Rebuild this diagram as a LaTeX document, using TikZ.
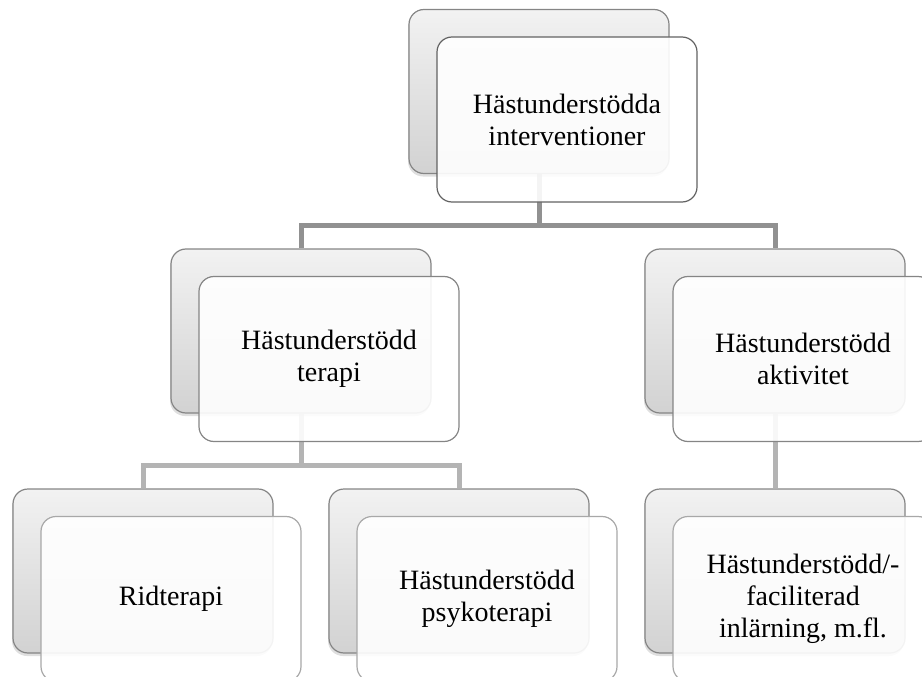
\documentclass[tikz,border=0pt]{standalone}
\usepackage{fontspec}
\setmainfont{Liberation Serif}
\usetikzlibrary{shadows,calc}
\pgfdeclarelayer{bg}
\pgfsetlayers{bg,main}
\definecolor{conntop}{HTML}{919191}
\definecolor{connlow}{HTML}{B4B4B4}
\definecolor{backline}{HTML}{858585}
\definecolor{backtop}{HTML}{F2F2F2}
\definecolor{backbot}{HTML}{D2D2D2}
\definecolor{frontA}{HTML}{626262}
\definecolor{frontB}{HTML}{858585}
\definecolor{frontC}{HTML}{A8A8A8}
\begin{document}
\begin{tikzpicture}[x=1pt,y=-1pt,
  backbox/.style={draw=backline, line width=1.2pt, rounded corners=15pt,
    minimum width=260pt, minimum height=164pt, inner sep=0pt,
    top color=backtop, bottom color=backbot,
    drop shadow={shadow xshift=-1pt, shadow yshift=-3pt, opacity=0.25}},
  frontbox/.style={draw=#1, line width=1.2pt, rounded corners=15pt,
    minimum width=260pt, minimum height=165pt, inner sep=0pt,
    fill=white, fill opacity=0.9, text opacity=1, align=center,
    font=\fontsize{28}{32}\selectfont},
  conn/.style={draw=#1, line width=5pt}]
\useasboundingbox (0,0) rectangle (922,677);
\clip (0,0) rectangle (922,677);
% back boxes
\node[backbox] (b0) at (539,91.5) {};
\node[frontbox=frontA] (f0) at (567,119.5) {Hästunderstödda\\interventioner};
\node[backbox] (b1) at (301,331) {};
\node[frontbox=frontB] (f1) at (329,359) {Hästunderstödd\\terapi};
\node[backbox] (b2) at (775,331) {};
\node[frontbox=frontB] (f2) at (803,359) {Hästunderstödd\\aktivitet};
\node[backbox] (b3) at (143,571) {};
\node[frontbox=frontC] (f3) at (171,599) {Ridterapi};
\node[backbox] (b4) at (459,571) {};
\node[frontbox=frontC] (f4) at (487,599) {Hästunderstödd\\psykoterapi};
\node[backbox] (b5) at (775,571) {};
\node[frontbox=frontC] (f5) at (803,599) {Hästunderstödd/-\\faciliterad\\inlärning, m.fl.};
\begin{pgfonlayer}{bg}
  \draw[conn=conntop] (b0.south) |- ($(f0.south)!.5!(b1.north)$) -| (b1.north);
  \draw[conn=conntop] (b0.south) |- ($(f0.south)!.5!(b2.north)$) -| (b2.north);
  \draw[conn=connlow] (b1.south) |- ($(f1.south)!.5!(b3.north)$) -| (b3.north);
  \draw[conn=connlow] (b1.south) |- ($(f1.south)!.5!(b4.north)$) -| (b4.north);
  \draw[conn=connlow] (b2.south) -- (b5.north);
\end{pgfonlayer}
\end{tikzpicture}
\end{document}
